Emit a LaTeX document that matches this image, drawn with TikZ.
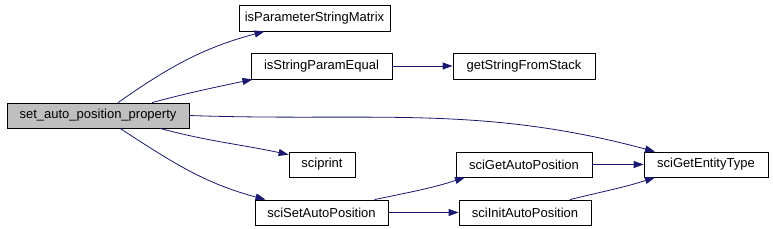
\documentclass[tikz,border=0pt]{standalone}
\usepackage{fontspec}
\setmainfont{Liberation Sans}
\usetikzlibrary{arrows.meta,positioning,calc}
\definecolor{CallNavy}{HTML}{191970}
\definecolor{CallGray}{HTML}{BFBFBF}

\begin{document}
\begin{tikzpicture}[x=1pt, y=1pt,
    fn/.style={draw=black, line width=0.8pt, fill=white, inner sep=0pt,
      minimum height=25pt, font=\fontsize{13}{15}\selectfont},
    call/.style={-{Triangle[length=10pt,width=7pt]}, line width=0.8pt, color=CallNavy}
  ]
    \useasboundingbox (0,0) rectangle (773,-229);
    % caller
    \node[fn, fill=CallGray, minimum width=182pt] (main) at (98,-115.5) {set\_auto\_position\_property};
    % callees
    \node[fn, minimum width=151pt, minimum height=26pt] (ispsm) at (314.5,-18) {isParameterStringMatrix};
    \node[fn, minimum width=141pt, minimum height=26pt] (isspe) at (321.5,-66) {isStringParamEqual};
    \node[fn, minimum width=142pt, minimum height=26pt] (gsfs) at (524,-66) {getStringFromStack};
    \node[fn, minimum width=66pt] (sciprint) at (322,-164.5) {sciprint};
    \node[fn, minimum width=133pt] (setauto) at (321.5,-212.5) {sciSetAutoPosition};
    \node[fn, minimum width=136pt] (getauto) at (524,-164.5) {sciGetAutoPosition};
    \node[fn, minimum width=132pt] (initauto) at (525,-212.5) {sciInitAutoPosition};
    \node[fn, minimum width=124pt] (entity) at (706,-164.5) {sciGetEntityType};
    % calls
    \draw[call] ([xshift=20pt]main.north) to[out=35, in=195] ([xshift=-50pt]ispsm.south);
    \draw[call] ([xshift=54pt]main.north) to[out=15, in=192] ([xshift=-69pt]isspe.south);
    \draw[call] (main.east) to[out=-2, in=165] ([xshift=-51pt]entity.north);
    \draw[call] ([xshift=62pt]main.south) to[out=-15, in=168] ([yshift=-3pt]sciprint.north west);
    \draw[call] ([xshift=22pt]main.south) to[out=-33, in=165] ([xshift=-56pt]setauto.north);
    \draw[call] (isspe) -- (gsfs);
    \draw[call] ([xshift=53pt]setauto.north) to[out=12, in=198] ([xshift=-59pt]getauto.south);
    \draw[call] (setauto) -- (initauto);
    \draw[call] (getauto) -- (entity);
    \draw[call] ([xshift=45pt]initauto.north) to[out=14, in=198] ([xshift=-51pt]entity.south);
  \end{tikzpicture}
\end{document}
